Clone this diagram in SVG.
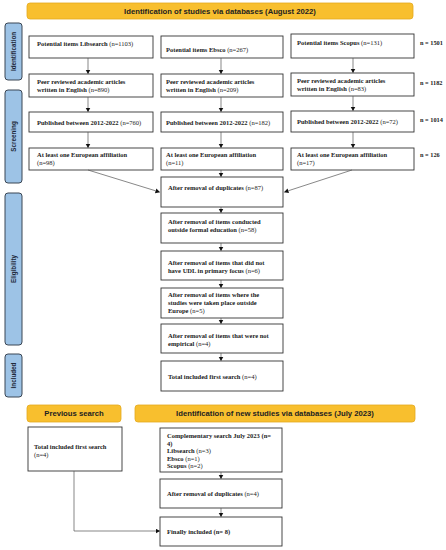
<svg xmlns="http://www.w3.org/2000/svg" width="446" height="550" viewBox="0 0 446 550">
<style>
.banner{fill:#F8BF2E;stroke:#E3A91E;stroke-width:0.8}
.bt{font-family:"Liberation Sans",Arial,sans-serif;font-weight:bold;font-size:7.7px;fill:#222}
.bt{text-anchor:middle}
.side{fill:#9DC3E6;stroke:#3B4654;stroke-width:1}
.st{font-family:"Liberation Sans",Arial,sans-serif;font-weight:bold;font-size:6.3px;fill:#1F2A3A;text-anchor:middle}
.box{fill:#fff;stroke:#333;stroke-width:0.9}
.t{font-family:"Liberation Serif","Times New Roman",serif;font-size:6.5px;fill:#222}
.b{font-weight:bold}
.n{font-family:"Liberation Serif","Times New Roman",serif;font-weight:bold;font-size:6.3px;fill:#222}
.c{fill:none;stroke:#555;stroke-width:0.7}
</style>
<defs>
<marker id="ah" markerUnits="userSpaceOnUse" markerWidth="6" markerHeight="6" refX="4" refY="2.5" orient="auto">
<path d="M0,0 L4.5,2.5 L0,5 Z" fill="#111"/>
</marker>
</defs>
<rect width="446" height="550" fill="#fff"/>

<g id="banner-top"><rect class="banner" x="27" y="3" width="386" height="16" rx="3"/><text class="bt" x="220" y="13.8">Identification of studies via databases (August 2022)</text></g>

<g id="side-identification"><rect class="side" x="5" y="23" width="17" height="57" rx="3"/><text class="st" transform="translate(15.7,51.5) rotate(-90)">Identification</text></g>
<g id="side-screening"><rect class="side" x="5" y="90" width="17" height="93" rx="3"/><text class="st" transform="translate(15.7,136.5) rotate(-90)">Screening</text></g>
<g id="side-eligibility"><rect class="side" x="5" y="193" width="17" height="152" rx="3"/><text class="st" transform="translate(15.7,269) rotate(-90)">Eligibility</text></g>
<g id="side-included"><rect class="side" x="5" y="354" width="17" height="43" rx="3"/><text class="st" transform="translate(15.7,375.5) rotate(-90)">Included</text></g>

<g id="c1r1"><rect class="box" x="29" y="36" width="124" height="22"/><text class="t" x="37" y="46"><tspan class="b">Potential items Libsearch</tspan> (n=1103)</text></g>
<g id="c2r1"><rect class="box" x="161" y="36" width="122" height="22"/><text class="t" x="166" y="52"><tspan class="b">Potential items Ebsco</tspan> (n=267)</text></g>
<g id="c3r1"><rect class="box" x="291" y="34" width="123" height="24"/><text class="t" x="297" y="45"><tspan class="b">Potential items Scopus</tspan> (n=131)</text></g>

<g id="c1r2"><rect class="box" x="29" y="74" width="124" height="23"/><text class="t" x="37" y="84"><tspan class="b">Peer reviewed academic articles</tspan></text><text class="t" x="37" y="91.5"><tspan class="b">written in English</tspan> (n=890)</text></g>
<g id="c2r2"><rect class="box" x="161" y="74" width="122" height="23"/><text class="t" x="166" y="84"><tspan class="b">Peer reviewed academic articles</tspan></text><text class="t" x="166" y="91.5"><tspan class="b">written in English</tspan> (n=209)</text></g>
<g id="c3r2"><rect class="box" x="291" y="73" width="123" height="23"/><text class="t" x="297" y="83"><tspan class="b">Peer reviewed academic articles</tspan></text><text class="t" x="297" y="90.5"><tspan class="b">written in English</tspan> (n=83)</text></g>

<g id="c1r3"><rect class="box" x="29" y="112" width="124" height="20"/><text class="t" x="37" y="125"><tspan class="b">Published between 2012-2022</tspan> (n=760)</text></g>
<g id="c2r3"><rect class="box" x="161" y="112" width="122" height="20"/><text class="t" x="166" y="125"><tspan class="b">Published between 2012-2022</tspan> (n=182)</text></g>
<g id="c3r3"><rect class="box" x="291" y="111" width="123" height="21"/><text class="t" x="297" y="124"><tspan class="b">Published between 2012-2022</tspan> (n=72)</text></g>

<g id="c1r4"><rect class="box" x="29" y="148" width="124" height="22"/><text class="t" x="37" y="157"><tspan class="b">At least one European affiliation</tspan></text><text class="t" x="37" y="164.5">(n=98)</text></g>
<g id="c2r4"><rect class="box" x="161" y="148" width="122" height="22"/><text class="t" x="166" y="157"><tspan class="b">At least one European affiliation</tspan></text><text class="t" x="166" y="164.5">(n=11)</text></g>
<g id="c3r4"><rect class="box" x="291" y="148" width="123" height="22"/><text class="t" x="297" y="157"><tspan class="b">At least one European affiliation</tspan></text><text class="t" x="297" y="164.5">(n=17)</text></g>

<g id="totals"><text class="n" x="420" y="45">n = 1501</text><text class="n" x="420" y="85">n = 1182</text><text class="n" x="420" y="122">n = 1014</text><text class="n" x="420" y="157">n = 126</text></g>

<g id="m1"><rect class="box" x="161" y="177" width="122" height="30"/><text class="t" x="168" y="190"><tspan class="b">After removal of duplicates</tspan> (n=87)</text></g>
<g id="m2"><rect class="box" x="161" y="213" width="122" height="30"/><text class="t" x="168" y="224"><tspan class="b">After removal of items conducted</tspan></text><text class="t" x="168" y="231.5"><tspan class="b">outside formal education</tspan> (n=58)</text></g>
<g id="m3"><rect class="box" x="161" y="251" width="122" height="29"/><text class="t" x="168" y="265"><tspan class="b">After removal of items that did not</tspan></text><text class="t" x="168" y="272.5"><tspan class="b">have UDL in primary focus</tspan> (n=6)</text></g>
<g id="m4"><rect class="box" x="161" y="288" width="122" height="30"/><text class="t" x="168" y="297"><tspan class="b">After removal of items where the</tspan></text><text class="t" x="168" y="305"><tspan class="b">studies were taken place outside</tspan></text><text class="t" x="168" y="313"><tspan class="b">Europe</tspan> (n=5)</text></g>
<g id="m5"><rect class="box" x="161" y="324" width="122" height="29"/><text class="t" x="168" y="338"><tspan class="b">After removal of items that were not</tspan></text><text class="t" x="168" y="346"><tspan class="b">empirical</tspan> (n=4)</text></g>
<g id="m6"><rect class="box" x="161" y="361" width="122" height="30"/><text class="t" x="168" y="379"><tspan class="b">Total included first search</tspan> (n=4)</text></g>

<g id="banner-prev"><rect class="banner" x="27" y="405" width="94" height="17" rx="3"/><text class="bt" x="74" y="416.2">Previous search</text></g>
<g id="banner-new"><rect class="banner" x="135" y="405" width="280" height="17" rx="3"/><text class="bt" x="275" y="416.2">Identification of new studies via databases (July 2023)</text></g>

<g id="prev-total"><rect class="box" x="28" y="427" width="94" height="44"/><text class="t" x="34" y="449"><tspan class="b">Total included first search</tspan></text><text class="t" x="34" y="456.5">(n=4)</text></g>
<g id="comp"><rect class="box" x="160" y="428" width="122" height="44"/><text class="t" x="167" y="438"><tspan class="b">Complementary search July 2023 (n=</tspan></text><text class="t" x="167" y="445.5"><tspan class="b">4)</tspan></text><text class="t" x="167" y="453"><tspan class="b">Libsearch</tspan> (n=3)</text><text class="t" x="167" y="460.5"><tspan class="b">Ebsco</tspan> (n=1)</text><text class="t" x="167" y="468"><tspan class="b">Scopus</tspan> (n=2)</text></g>
<g id="dup2"><rect class="box" x="160" y="479" width="122" height="29"/><text class="t" x="167" y="496"><tspan class="b">After removal of duplicates</tspan> (n=4)</text></g>
<g id="final"><rect class="box" x="160" y="517" width="122" height="29"/><text class="t" x="167" y="534"><tspan class="b">Finally included (n= 8)</tspan></text></g>

<g id="connectors">
<path class="c" d="M88,58 V73.5" marker-end="url(#ah)"/>
<path class="c" d="M221,58 V73.5" marker-end="url(#ah)"/>
<path class="c" d="M353,58 V72.5" marker-end="url(#ah)"/>
<path class="c" d="M88,97 V111.5" marker-end="url(#ah)"/>
<path class="c" d="M221,97 V111.5" marker-end="url(#ah)"/>
<path class="c" d="M353,96 V110.5" marker-end="url(#ah)"/>
<path class="c" d="M88,132 V147.5" marker-end="url(#ah)"/>
<path class="c" d="M221,132 V147.5" marker-end="url(#ah)"/>
<path class="c" d="M353,132 V147.5" marker-end="url(#ah)"/>
<path class="c" d="M88,170 L159.5,192" marker-end="url(#ah)"/>
<path class="c" d="M352,170 L284.5,192" marker-end="url(#ah)"/>
<path class="c" d="M221,170 V176.5" marker-end="url(#ah)"/>
<path class="c" d="M221,207 V212.5" marker-end="url(#ah)"/>
<path class="c" d="M221,243 V250.5" marker-end="url(#ah)"/>
<path class="c" d="M221,280 V287.5" marker-end="url(#ah)"/>
<path class="c" d="M221,318 V323.5" marker-end="url(#ah)"/>
<path class="c" d="M221,353 V360.5" marker-end="url(#ah)"/>
<path class="c" d="M221,472 V478.5" marker-end="url(#ah)"/>
<path class="c" d="M221,508 V516.5" marker-end="url(#ah)"/>
<path class="c" d="M74,471 V531 H159.5" marker-end="url(#ah)"/>
</g>
</svg>
